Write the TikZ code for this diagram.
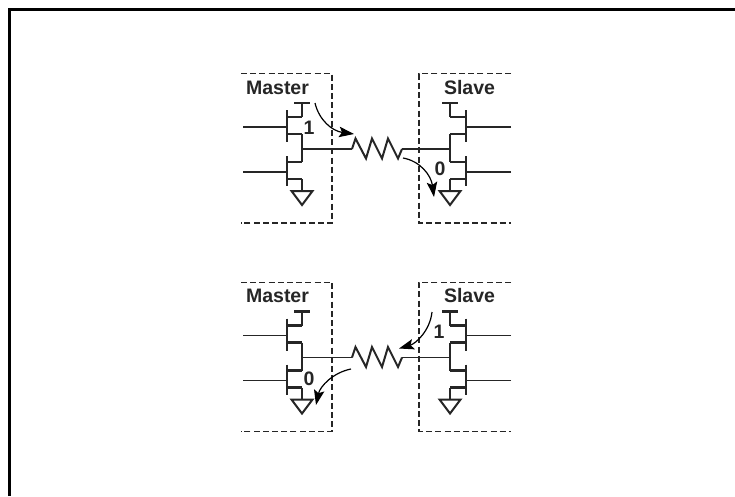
\documentclass[tikz,border=0pt]{standalone}
\usepackage{fontspec}
\setmainfont{Liberation Sans}
\usetikzlibrary{arrows.meta}
\tikzset{
  x=1pt,y=-1pt,
  wire/.style={line width=1.1pt,black!85},
  thick bar/.style={line width=2.3pt,black!85,line cap=butt},
  dashbox/.style={line width=1.1pt,black!85,dash pattern=on 6pt off 3.2pt},
  lbl/.style={font=\bfseries\fontsize{19.5}{21}\selectfont,inner sep=0pt,text=black!85},
  flow/.style={line width=1.2pt,black,-{Stealth[length=15pt,width=10.5pt,inset=3pt]}},
  frame/.style={line width=3pt,black},
}
% one half-bridge: #1 name prefix, #2 gate end x, #3 bar x, #4 rail x
\newcommand{\halfcell}[4]{%
  \coordinate (#1g1) at (#2,127);
  \coordinate (#1b1) at (#3,127);
  \coordinate (#1g2) at (#2,172);
  \coordinate (#1b2) at (#3,172);
  \coordinate (#1n)  at (#4,149);
  \draw[wire] (#1g1) -- (#1b1);
  \draw[wire] (#1g2) -- (#1b2);
  \draw[thick bar] (#3,110) -- (#3,142);
  \draw[thick bar] (#3,156) -- (#3,186);
  \draw[thick bar] (#3,117) -- (#4,117);
  \draw[thick bar] (#3,134) -- (#4,134);
  \draw[thick bar] (#3,162) -- (#4,162);
  \draw[thick bar] (#3,179) -- (#4,179);
  \draw[thick bar] (#4-8,103) -- (#4+8,103);
  \draw[wire] (#4,103) -- (#4,117);
  \draw[wire] (#4,134) -- (#4,162);
  \draw[wire] (#4,179) -- (#4,191);
  \draw[line width=2pt,black!85,line join=miter] (#4-10.5,191) -- (#4+10.5,191) -- (#4,205) -- cycle;
}
\newcommand{\stage}[1]{%
  \draw[dashbox] (241,73.7) -- (332,73.7) -- (332,223) -- (241,223);
  \draw[dashbox] (511,73.7) -- (419,73.7) -- (419,223) -- (511,223);
  \halfcell{#1m}{243}{287}{302}
  \halfcell{#1s}{511}{466}{450}
  \coordinate (#1ra) at (352,149);
  \coordinate (#1rb) at (402,149);
  \draw[wire] (#1mn) -- (#1ra);
  \draw[wire] (#1rb) -- (#1sn);
  \draw[line width=2pt,black!85,line join=miter] (#1ra) -- (355.5,138.5) -- (366,158.5) -- (372,138.5) -- (382,158.5) -- (388,138.5) -- (398,158.5) -- (#1rb);
  \node[lbl] (#1master) at (277.5,87.5) {Master};
  \node[lbl] (#1slave) at (469.5,87.5) {Slave};
}
\begin{document}
\begin{tikzpicture}
\useasboundingbox (0,0) rectangle (735,496);
\fill[white] (0,0) rectangle (735,496);
\draw[frame] (9.5,496) -- (9.5,9.5) -- (735,9.5);
\begin{scope}
  \stage{a}
  \node[lbl] (aone) at (309,128) {1};
  \node[lbl] (azero) at (440,169) {0};
  \coordinate (af1) at (315,103);
  \coordinate (af2) at (354,134);
  \coordinate (af3) at (403,158);
  \coordinate (af4) at (434,197);
  \draw[flow] (af1) .. controls (319,120) and (332,131) .. (af2);
  \draw[flow] (af3) .. controls (420,161) and (431,175) .. (af4);
\end{scope}
\begin{scope}[yshift=-208.5pt]
  \stage{b}
  \node[lbl] (bzero) at (309,170.5) {0};
  \node[lbl] (bone) at (439,123.5) {1};
  \coordinate (bf1) at (351,160.5);
  \coordinate (bf2) at (316,196.5);
  \coordinate (bf3) at (432,103.5);
  \coordinate (bf4) at (399,140);
  \draw[flow] (bf1) .. controls (333,164) and (320,178) .. (bf2);
  \draw[flow] (bf3) .. controls (430,122) and (416,135) .. (bf4);
\end{scope}
\end{tikzpicture}
\end{document}
